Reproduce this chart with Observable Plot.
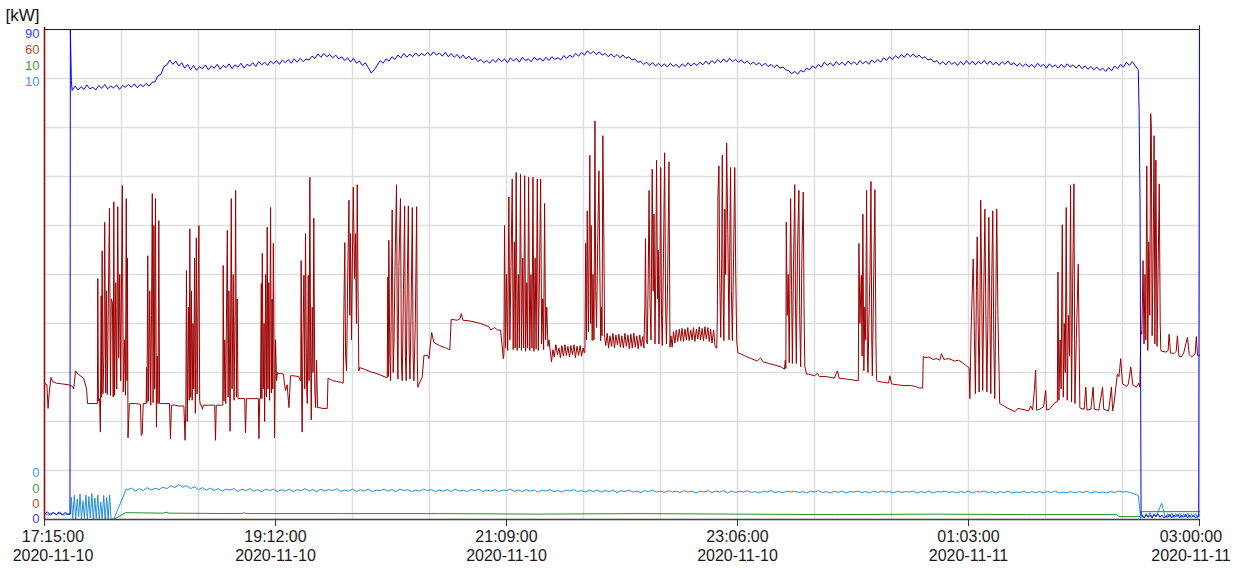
<!DOCTYPE html>
<html><head><meta charset="utf-8">
<script src="https://cdn.jsdelivr.net/npm/d3@7"></script>
<script src="https://cdn.jsdelivr.net/npm/@observablehq/plot@0.6"></script>
<style>body{margin:0;background:#fff;} #chart svg{display:block;}</style>
</head><body><div id="chart"></div>
<script>
// ---- axis / scale definitions ----
const unitLabel = "[kW]";
const seriesNames = ["P total", "P load", "P aux", "P ctrl"];
const seriesMax = [90, 60, 10, 10];          // per-series full-scale values
const topLabels = ["90", "60", "10", "10"];
const bottomLabels = ["0", "0", "0", "0"];
const seriesColors = ["#0000ff", "#9b0000", "#2a8f2a", "#2590d4"];
const labelColors = ["#3c3cff", "#b8502e", "#3d9a3d", "#3a9ad8"];
const tickMinutes = [0, 117, 234, 351, 468, 585];
const timeLabels = ["17:15:00", "19:12:00", "21:09:00", "23:06:00", "01:03:00", "03:00:00"];
const dateLabels = ["2020-11-10", "2020-11-10", "2020-11-10", "2020-11-10", "2020-11-11", "2020-11-11"];

// ---- series: [minutes after 17:15, kW] ----
const blueLead = [[0,1.0],[1.5,1.4],[3,0.8],[4.5,1.3],[6,0.9],[7.5,1.4],[9,0.8],[10.5,1.3],[12,0.9],[12.9,1.0],[13.1,90.0],[13.6,80.6]];
const blueStart = 14, blueStep = 1.5;
const blueMain = [
78.8,79.6,78.9,79.5,79.0,79.8,79.1,79.4,78.9,79.7,79.2,79.9,79.1,79.6,79.3,79.8,79.0,79.7,79.4,79.9,
79.4,80.0,79.3,79.9,79.5,80.1,79.6,80.3,80.4,81.5,81.8,83.2,83.5,84.4,83.6,84.2,83.3,83.9,82.9,83.6,
82.6,83.4,82.5,83.2,82.8,83.5,82.6,83.3,82.9,83.6,82.7,83.4,83.0,83.7,82.8,83.5,83.1,83.8,82.9,83.6,
83.3,83.9,83.2,84.1,83.5,84.0,83.4,84.2,83.7,84.3,83.6,84.4,83.9,84.5,83.8,84.6,84.0,84.7,84.1,84.6,
84.4,85.1,84.7,85.5,84.9,85.6,85.0,85.4,84.8,85.3,84.6,85.0,84.3,84.8,84.0,84.7,83.8,84.2,83.4,83.9,
83.0,82.0,82.6,83.4,84.3,83.8,84.6,84.2,85.0,84.5,85.3,84.8,85.6,84.9,85.5,85.0,85.7,85.1,85.6,85.2,
85.8,85.2,85.9,85.3,85.7,85.1,85.8,85.0,85.6,84.9,85.4,84.7,85.3,84.6,85.1,84.4,84.8,84.1,84.5,83.9,
84.3,83.8,84.5,84.0,84.7,84.1,84.6,83.9,84.8,84.2,84.7,84.0,84.9,84.3,84.6,84.1,84.9,84.4,84.7,84.2,
84.9,84.3,85.0,84.5,84.8,84.4,85.2,84.7,85.3,84.9,85.6,85.1,85.8,85.3,86.1,85.5,86.0,85.4,85.9,85.3,
85.6,85.0,85.5,84.9,85.4,84.8,85.3,84.7,85.0,84.4,84.6,84.0,84.1,83.6,84.0,83.4,83.9,83.3,83.8,83.2,
83.7,83.1,83.8,83.2,83.6,83.0,83.7,83.2,83.9,83.3,83.8,83.4,84.0,83.5,84.2,83.6,84.3,83.8,84.5,83.9,
84.6,84.0,84.7,84.1,84.5,84.0,84.4,83.8,84.2,83.6,84.0,83.5,83.9,83.3,83.8,83.2,83.6,83.0,83.5,82.9,
83.1,82.6,82.4,81.9,82.3,81.8,82.5,82.2,82.9,82.6,83.3,82.9,83.6,83.1,84.0,83.4,83.9,83.3,84.1,83.5,
84.0,83.4,84.2,83.6,84.1,83.5,84.3,83.7,84.2,83.6,84.4,83.9,84.5,84.0,84.8,84.3,85.0,84.5,85.2,84.7,
85.4,84.9,85.6,85.0,85.5,84.9,85.3,84.7,85.0,84.4,84.6,84.0,84.3,83.6,84.1,83.5,84.2,83.6,84.0,83.4,
84.1,83.5,84.3,83.6,84.2,83.5,84.1,83.7,84.3,83.6,84.2,83.5,84.0,83.4,84.1,83.6,84.2,83.5,83.9,83.3,
83.8,83.2,83.7,83.1,83.6,83.0,83.8,83.2,83.6,82.9,83.7,83.1,83.5,82.9,83.6,83.0,83.7,83.1,83.5,82.9,
83.5,82.8,83.3,82.7,83.2,82.6,83.1,82.5,82.9,82.3,83.0,82.4,83.3,82.8,83.6,83.1,84.0,83.4,84.1,83.3,
82.6];
const blueTail = [[554.4,75.0],[554.9,58.0],[555.4,0.9],[556,0.7],[557,0.3],[558,0.9],[559,0.4],[560,0.8],[561,0.3],[562,0.9],[563,0.5],[564,1.0],[565,0.4],[566,0.8],[567,0.3],[568,0.7],[569,0.4],[570,0.9],[571,0.3],[572,0.8],[573,0.5],[574,0.9],[575,0.3],[576,0.8],[577,0.4],[578,0.9],[579,0.3],[580,0.8],[581,0.4],[582,0.7],[583,0.3],[584,0.6],[584.6,0.5],[585,90.7]];

const redPts = [
[0,16.7],[1.2,16.5],[1.8,13.6],[2.4,15.5],[3.3,17.4],[4.1,16.9],[6,16.7],[9,16.6],[12,16.5],[14.2,16.3],[14.8,16.0],[15.7,18.2],[17,17.8],[19.8,17.3],[21.3,16.0],[21.8,14.2],[24,14.2],[26.5,14.2],
[26.8,14.2],[27.0,29.5],[27.3,14.5],[27.9,14.8],[28.3,10.7],[28.7,27.4],[28.9,15.0],[29.2,32.9],[29.6,15.4],[30.1,20],[30.5,36.4],[31.0,15.5],[31.4,28],[31.8,15.3],[32.3,26],[32.9,38.1],[33.4,15.2],[33.8,27],[34.4,26.6],[34.8,15.0],[35.1,38.9],[35.5,15.2],[36.1,29],[36.6,16],[37.1,38.3],[37.6,19.8],[38.1,30],[38.6,17],[39.4,40.9],[39.9,15.6],[40.5,22],[41.0,15.2],[41.4,39.3],[41.8,17],[42.0,32.0],[42.3,10.0],[43.0,14.2],
[43.6,14.2],[46,14.2],[48.6,14.1],[49.0,10.3],[49.5,10.5],[50.0,14.2],[51.2,14.2],
[51.5,14.2],[51.7,18.6],[51.9,14.3],[52.3,32.3],[52.7,14.5],[53.3,28],[53.8,14.0],[54.2,25],[54.6,39.9],[55.0,14.3],[55.4,36],[55.8,16],[56.2,39.3],[56.7,11.3],[57.1,20],[57.5,14.2],[57.9,36.6],[58.3,14.2],[59,14.2],
[59.8,14.2],[62,14.2],[63.3,14.2],[63.8,9.9],[64.3,14.0],[66,14.0],[68,13.9],[70.6,13.9],[71.2,9.7],[71.6,14.0],
[71.9,30.5],[72.3,12],[72.9,26],[73.3,14.6],[73.6,35.6],[74.0,15],[74.4,28],[74.8,14.6],[75.2,24],[75.6,16],[76.0,32],[76.4,13],[76.9,34.5],[77.3,15.4],[77.8,27],[78.2,36],[78.6,14.6],[79.0,14.0],
[79.5,14.0],[80,13.5],[80.5,14.0],[83,14.0],[86.2,14.0],[86.6,9.7],[87.0,14.0],[89.8,14.0],
[90.3,14.0],[90.5,31.1],[90.9,14.5],[91.3,22],[91.8,14.2],[92.2,26],[92.6,35.4],[93.0,15],[93.4,28],[94.0,10.8],[94.6,39.3],[95.0,16],[95.6,30],[96.0,14.6],[96.5,25],[96.8,40.3],[97.2,15],[97.6,27],[98.0,14.8],
[98.3,14.8],[101.4,14.8],[101.8,10.6],[102.3,14.8],[105,14.8],[108.3,14.8],[108.6,9.9],[109.0,14.8],
[109.4,14.8],[109.8,28.9],[110.1,14.8],[110.3,32.6],[110.8,16],[111.2,24],[111.5,12],[112.0,30],[112.4,15],[112.8,35.8],[113.2,16],[113.6,29],[114.0,14.6],[114.5,38.2],[114.9,15.5],[115.3,27],[115.6,16],[115.9,33.8],[116.3,20],[116.5,10.0],[117.0,22],[117.5,17.0],[118,18.0],
[118.5,17.9],[119.6,17.9],[121,17.8],[121.6,16.5],[122.1,15.8],[122.9,16.5],[123.8,13.7],[124.2,15.5],[124.6,17.6],[126,17.6],[128.8,17.5],[129.5,17.0],
[129.8,17.0],[130.0,31.7],[130.3,14],[130.5,10.7],[130.9,22],[131.4,29.9],[131.8,16],[132.2,35.0],[132.7,17],[133.1,14.2],[133.6,29.9],[134.0,17],[134.4,41.9],[134.8,20],[135.1,12.2],[135.6,26],[136.0,18],[136.4,36.9],[136.9,16],[137.3,13.7],[137.8,19.5],[138.3,13.7],
[139,13.7],[141,13.6],[143.2,13.6],[143.6,17.3],[146,17.0],[148,16.9],[150,16.8],[151,16.7],
[151.3,16.7],[151.6,25],[152.1,33.9],[152.5,20],[153.0,18.2],[153.6,30],[154.2,39.1],[154.6,25],[155.0,35],[155.5,22],[156.0,33],[156.4,40.7],[157.0,29.5],[157.5,35],[158.0,24],[158.4,41.0],[158.8,28],[159.2,18.2],
[159.6,18.6],[162,18.4],[165,18.1],[168,17.9],[171,17.6],[173,17.4],
[173.6,17.4],[173.9,29.7],[174.1,17.5],[174.4,34.2],[174.9,20],[175.3,17.0],[175.7,28],[176.1,37.9],[176.6,18],[177.0,21.5],[177.6,32],[178.3,41.0],[178.7,22],[179.0,17.2],[179.5,31],[180.3,39.3],[180.8,19],[181.2,17.0],[181.8,28],[182.4,38.4],[182.8,20],[183.2,17.0],[183.8,30],[184.3,38.4],[184.7,21],[185.1,17.2],[185.7,26],[186.3,38.2],[186.7,20],[187.1,17.0],[187.8,24],[188.5,38.3],[188.8,20],[189.1,16.2],
[189.5,16.5],[191.3,17.4],[192.2,20.1],[194.0,20.1],[194.7,19.7],[196.1,22.9],[197.2,21.7],[200,21.3],[203.2,21.0],[205.3,20.8],[206.0,24.5],[209.1,24.4],[210.5,24.6],[211.1,25.2],[211.9,24.4],[215.8,24.3],[220.9,24.0],[225.1,23.6],[226,23.2],[228,23.5],[229.5,23.2],[231.0,23.2],[232.4,19.7],
[232.7,20.2],[233.0,36.0],[233.5,21],[234.0,30],[234.6,20.7],[235.2,39.5],[235.7,22],[236.3,31],[236.9,41.7],[237.4,20.8],[238.0,34],[238.4,21],[238.9,42.5],[239.4,20.7],[240.0,30],[240.5,21],[241.1,42.3],[241.6,20.7],[242.2,32],[242.7,21],[243.2,42.1],[243.7,20.6],[244.3,29],[244.7,21],[245.2,41.9],[245.8,20.7],[246.4,30],[246.9,21],[247.4,41.9],[247.9,20.6],[248.5,32],[249.0,20.9],[249.6,41.7],[250.1,20.7],[250.7,30],[251.3,41.7],[251.8,21.5],[252.4,27],[252.8,20.8],[253.3,38.7],[253.8,22],[254.4,26],[255.0,21.2],[255.5,22.0],
[256,21.0],[256.8,19.3],[257.5,20.8],[258.2,19.9],[259,21.4],[259.8,20.2],[260.6,21.0],[261.3,19.8],[262.0,21.3],[262.8,20.0],[263.6,21.4],[264.3,20.1],[265.1,21.2],[265.9,19.9],[266.6,21.3],[267.4,20.2],[268.2,21.4],[268.9,19.8],[269.7,21.2],[270.5,20.1],[271.3,21.3],[272.0,20.0],[272.8,21.0],[273.4,20.4],
[273.7,20.5],[274.1,33.8],[274.5,22],[274.9,37.8],[275.5,23],[276.2,44.6],[276.6,24],[276.9,36],[277.4,21.9],[277.8,30],[278.3,22],[278.8,48.8],[279.2,28],[279.6,23.5],[280.2,34],[280.8,42.7],[281.3,30],[281.7,21.9],[282.0,26],[282.4,22.5],[282.8,47.0],[283.3,34.6],[283.7,22.3],
[284.3,21.3],[285.0,22.8],[285.7,21.0],[286.4,22.5],[287.2,21.2],[287.9,22.8],[288.7,21.0],[289.4,22.6],[290.2,21.4],[290.9,22.7],[291.7,21.1],[292.4,22.5],[293.2,21.0],[294.0,22.8],[294.7,21.2],[295.5,22.6],[296.2,20.9],[297.0,22.7],[297.7,21.0],[298.5,22.8],[299.2,21.1],[300.0,22.5],[300.7,20.9],[301.5,22.6],[302.2,21.2],[303.0,22.4],
[303.6,21.0],[304.1,26.4],[304.4,34.4],[304.8,22],[305.3,21.5],[305.8,30],[306.2,40.3],[306.7,26.4],[307.2,22],[307.8,42.9],[308.3,28],[308.7,37.4],[309.2,21.5],[309.6,30],[310.0,44.0],[310.5,27],[310.9,33],[311.2,21.5],[311.7,30],[312.1,43.1],[312.5,25],[312.9,21.3],[313.5,32],[314.1,44.9],[314.6,26],[315.0,21.5],[315.6,29],[316.3,43.8],[316.8,21.1],
[317.3,22.5],[317.9,21.1],[318.6,23.0],[319.3,21.6],[320.0,23.2],[320.7,21.8],[321.5,23.3],[322.2,21.9],[322.9,23.4],[323.6,21.8],[324.4,23.3],[325.1,22.0],[325.8,23.5],[326.5,21.9],[327.3,23.2],[328.0,22.0],[328.7,23.5],[329.4,21.8],[330.2,23.3],[330.9,22.1],[331.6,23.6],[332.3,22.0],[333.1,23.4],[333.8,21.9],[334.5,23.6],[335.2,22.1],[336.0,23.5],[336.7,21.8],[337.4,23.3],[338.1,21.6],[338.9,23.2],[339.6,21.3],[340.2,21.0],
[340.5,21.0],[340.8,25.2],[341.1,39.7],[341.6,43.3],[342.0,30],[342.5,22.3],[343.0,32],[343.3,44.6],[343.8,26],[344.1,21.9],[344.6,38],[345.0,30],[345.5,46.1],[346.1,35],[346.7,22.0],[347.1,34],[347.5,43.1],[347.9,28],[348.4,21.9],[349.0,32],[349.6,43.1],[350.1,30],[350.6,21.9],[351.2,20.4],
[352.5,20.3],[355,20.0],[358,19.7],[361,19.4],[362.7,19.8],[364,19.3],[367,19.1],[370,18.9],[373,18.7],[374.8,18.4],[375.2,19.5],
[375.5,18.5],[375.7,36.4],[376.2,25],[376.7,30],[377.2,19.2],[377.9,39.3],[378.4,28],[378.8,19.1],[379.3,30],[380.0,41.0],[380.4,26],[380.8,19.1],[381.4,33],[382.1,40.3],[382.5,25],[383.0,18.7],[383.6,32],[384.3,40.1],[384.7,26],[385.1,18.7],[386.0,17.8],
[387,17.8],[390,17.6],[391.5,17.9],[392.5,17.5],[396,17.5],[400,17.3],[401.6,18.2],[402.5,17.3],[406,17.2],[409,17.1],[411.5,17.0],
[412.2,17.0],[412.5,33.8],[413.0,24],[413.7,29.9],[414.1,20],[414.5,37.4],[415.0,18.2],[415.5,26],[415.9,22],[416.4,40.3],[416.8,20],[417.1,18.0],[417.7,26],[418.1,30],[418.6,41.4],[419.0,22],[419.3,17.6],[420.0,30],[420.6,40.4],[421.1,22],[421.4,17.1],
[422,16.9],[425,16.8],[427.5,16.7],[428.2,17.6],[429,16.6],[432,16.5],[435,16.4],[438.7,16.4],[441,16.3],[443,16.1],[444.8,16.1],
[445.1,20.0],[446,19.8],[448,19.9],[450,19.6],[452,19.7],[453.5,19.5],[454.3,20.3],[455.5,19.6],[458,19.7],[461,19.4],[463,19.5],[465,19.2],[466.5,18.9],[467.6,18.7],
[468.3,18.6],[468.7,14.8],[469.3,23.1],[470.4,31.9],[471.0,22],[471.5,15.4],[472.0,28],[472.4,34.6],[472.9,24],[473.4,15.6],[473.8,26],[474.2,39.1],[474.7,28],[475.2,15.8],[475.7,27],[476.3,38.0],[476.8,25],[477.3,15.6],[477.8,24],[478.3,37.0],[478.8,26],[479.3,15.4],[479.8,30],[480.3,37.8],[480.8,22],[481.3,14.8],[481.8,26],[482.3,38.0],[482.9,25],[483.8,14.2],
[484.5,14.1],[486,13.9],[488,13.6],[490,13.4],[491.5,13.2],[493,13.6],[495,13.5],[497,13.4],[498.5,13.3],[499.5,13.9],[500.5,13.4],[501.4,16],[502.0,18.3],[502.5,13.4],[504,13.5],[506,13.8],[507.1,15.8],[507.6,13.4],[509,13.5],[511.3,14.2],[512.5,14.4],
[513.0,14.4],[513.3,30.3],[513.8,14.6],[514.4,22],[514.9,16],[515.5,36.1],[516.0,15.0],[516.5,24],[517.0,18],[517.5,38.2],[518.0,14.6],[518.6,25],[519.2,20],[519.7,40.9],[520.2,14.4],[520.8,30],[521.4,41.1],[521.9,14.2],[522.6,22],[523.6,31.3],[524.4,13.7],
[525,13.6],[526.6,13.5],[527.4,16.2],[528.0,13.4],[530,13.5],[531.1,16.2],[531.7,13.5],[534,13.4],[535.9,16.2],[536.5,13.5],[539,13.3],[540.4,16.2],[541.0,13.3],[541.7,14.2],[543.4,17.8],[544.2,17.5],[545.1,19.7],[546.0,16.6],[548,16.3],[549,16.6],[550.2,18.7],[551.2,16.5],[553,16.2],[554.3,16.7],[554.8,16.2],[555.3,23.1],
[555.8,22.7],[556.4,31.7],[556.9,21.5],[557.4,30],[557.8,22],[558.3,43.3],[558.8,20.7],[559.3,34],[559.8,25],[560.3,49.7],[560.6,48.0],[561.0,22.5],[561.5,32],[562.0,47.0],[562.4,21.5],[562.9,44.0],[563.5,21.2],[564.0,30],[564.6,41.1],[565.1,24],[565.4,20.7],
[566,20.6],[568,20.5],[569.1,20.7],[569.6,22.7],[570.3,20.4],[572,20.3],[573.2,20.6],[573.8,22.5],[574.6,20.0],[575.8,19.9],[577,20.4],[578.9,22.3],[579.8,20.2],[581,19.9],[582.8,20.3],[583.4,22.4],[584.0,20.1],[585,20.1]];

const greenPts = [[0,0],[35,0],[41,0.14],[60,0.13],[62,0.15],[63,0.13],[100,0.12],[101,0.14],[102,0.12],[150,0.12],[200,0.12],[250,0.11],[300,0.12],[350,0.11],[400,0.10],[450,0.11],[500,0.10],[543,0.10],[544,0.06],[555,0.06],[555.5,0.16],[585,0.16]];

const lightLead = [[0,0.12],[2,0.09],[4,0.14],[6,0.10],[8,0.13],[10,0.09],[12,0.12],[13.2,0.10],[13.6,0.45],[14.3,0.02],[15.1,0.50],[15.8,0.00],[16.6,0.42],[17.3,0.05],[18.0,0.52],[18.7,0.00],[19.5,0.38],[20.2,0.02],[21.0,0.50],[21.7,0.00],[22.5,0.47],[23.2,0.03],[24.0,0.53],[24.7,0.00],[25.5,0.44],[26.2,0.02],[27.0,0.50],[27.7,0.00],[28.5,0.36],[29.2,0.02],[30.0,0.49],[30.7,0.00],[31.5,0.45],[32.2,0.00],[33.0,0.50],[33.7,0.00],[34.6,0.02],[35.0,0.00],[41.5,0.63]];
const lightStart = 42, lightStep = 2;
const lightMain = [
0.60,0.64,0.58,0.63,0.59,0.65,0.60,0.64,0.61,0.66,0.63,0.69,0.65,0.71,0.66,0.69,0.63,0.67,0.61,0.65,
0.60,0.64,0.59,0.63,0.58,0.62,0.60,0.63,0.57,0.62,0.59,0.63,0.58,0.61,0.57,0.62,0.59,0.62,0.57,0.61,
0.58,0.62,0.57,0.61,0.59,0.63,0.58,0.61,0.57,0.62,0.58,0.61,0.59,0.63,0.57,0.60,0.58,0.62,0.57,0.61,
0.58,0.62,0.57,0.60,0.59,0.62,0.58,0.61,0.57,0.62,0.59,0.61,0.57,0.60,0.58,0.62,0.59,0.61,0.57,0.60,
0.58,0.61,0.57,0.62,0.58,0.60,0.57,0.61,0.59,0.62,0.57,0.60,0.58,0.61,0.57,0.60,0.59,0.62,0.57,0.60,
0.57,0.61,0.58,0.60,0.56,0.60,0.58,0.61,0.57,0.59,0.56,0.60,0.58,0.61,0.57,0.59,0.56,0.60,0.57,0.60,
0.56,0.59,0.57,0.60,0.55,0.59,0.57,0.60,0.56,0.58,0.55,0.59,0.57,0.60,0.56,0.58,0.55,0.59,0.56,0.58,
0.55,0.59,0.56,0.58,0.54,0.58,0.56,0.59,0.55,0.58,0.56,0.59,0.54,0.58,0.55,0.58,0.56,0.59,0.55,0.57,
0.54,0.58,0.56,0.59,0.55,0.57,0.54,0.58,0.56,0.58,0.55,0.57,0.54,0.58,0.56,0.59,0.55,0.57,0.54,0.58,
0.55,0.58,0.54,0.57,0.56,0.58,0.55,0.57,0.54,0.58,0.55,0.58,0.56,0.57,0.54,0.58,0.55,0.57,0.56,0.58,
0.54,0.57,0.55,0.58,0.54,0.57,0.56,0.58,0.55,0.57,0.54,0.57,0.55,0.58,0.54,0.57,0.56,0.58,0.55,0.57,
0.54,0.57,0.55,0.58,0.54,0.56,0.55,0.58,0.54,0.57,0.55,0.57,0.54,0.57,0.55,0.58,0.54,0.56,0.55,0.57,
0.54,0.57,0.55,0.58,0.54,0.57,0.55,0.56,0.54,0.57,0.55,0.58,0.56,0.57,0.55,0.52,0.49];
const lightTail = [[555.2,0.02],[556,0.10],[557,0.03],[558,0.12],[559,0.05],[560,0.14],[561,0.04],[562,0.12],[563,0.06],[564,0.15],[565,0.25],[565.8,0.33],[566.5,0.22],[567.3,0.10],[568,0.04],[569,0.12],[570,0.05],[571,0.13],[572,0.04],[573,0.12],[574,0.06],[575,0.13],[576,0.04],[577,0.12],[578,0.05],[579,0.13],[580,0.04],[581,0.12],[582,0.05],[583,0.12],[584,0.04],[585,0.10]];

// ---- build ----
const t0 = Date.UTC(2020, 10, 10, 17, 15);
const toDate = m => new Date(t0 + m * 60000);
const fromPairs = (arr, max) => arr.map(([m, v]) => ({t: toDate(m), f: v / max}));
const fromSteps = (start, step, vals, max) => vals.map((v, i) => ({t: toDate(start + i * step), f: v / max}));

const blueData = [...fromPairs(blueLead, seriesMax[0]), ...fromSteps(blueStart, blueStep, blueMain, seriesMax[0]), ...fromPairs(blueTail, seriesMax[0])];
const redData = fromPairs(redPts, seriesMax[1]);
const greenData = fromPairs(greenPts, seriesMax[2]);
const lightData = [...fromPairs(lightLead, seriesMax[3]), ...fromSteps(lightStart, lightStep, lightMain, seriesMax[3]), ...fromPairs(lightTail, seriesMax[3])];

const gridTimes = d3.range(0, 586, 39).map(toDate);
const gridFracs = d3.range(0, 11).map(i => i / 10);
const tickRows = tickMinutes.map((m, i) => ({t: toDate(m), time: timeLabels[i], date: dateLabels[i], i}));
const last = tickRows.length - 1;

function labelMarks(rows, dx) {
  return [
    Plot.text(rows, {x: "t", text: "time", frameAnchor: "bottom", dy: 22, dx, lineAnchor: "bottom", fontSize: 16, fill: "#1a1a1a"}),
    Plot.text(rows, {x: "t", text: "date", frameAnchor: "bottom", dy: 41, dx, lineAnchor: "bottom", fontSize: 16, fill: "#1a1a1a"})
  ];
}

const topOffsets = [4, 20, 36, 52];
const bottomOffsets = [-47, -31, -15.5, -1];
const bottomOrder = [3, 2, 1, 0];

const chart = Plot.plot({
  width: 1240, height: 568,
  marginLeft: 44, marginRight: 41, marginTop: 29, marginBottom: 49,
  style: {fontFamily: "'Liberation Sans', Arial, sans-serif", background: "#ffffff", overflow: "visible"},
  x: {type: "utc", domain: [toDate(0), toDate(585)], label: null},
  y: {domain: [0, 1], axis: null},
  marks: [
    Plot.ruleX(gridTimes, {stroke: "#dedede", strokeWidth: 1.5}),
    Plot.ruleY(gridFracs, {stroke: "#dedede", strokeWidth: 1.5}),
    Plot.line(greenData, {x: "t", y: "f", stroke: seriesColors[2], strokeWidth: 1}),
    Plot.line(lightData, {x: "t", y: "f", stroke: seriesColors[3], strokeWidth: 1}),
    Plot.line(redData, {x: "t", y: "f", stroke: seriesColors[1], strokeWidth: 1}),
    Plot.line(blueData, {x: "t", y: "f", stroke: seriesColors[0], strokeWidth: 1}),
    Plot.ruleY([1], {stroke: "#222", strokeWidth: 1.2}),
    Plot.ruleY([0], {stroke: "#444", strokeWidth: 1.5}),
    Plot.ruleX([toDate(0)], {stroke: "#a00000", strokeWidth: 1.5, insetTop: -2}),
    Plot.axisX({ticks: tickRows.map(d => d.t), tickSize: 7, tickFormat: () => "", stroke: "#333", label: null}),
    ...labelMarks(tickRows.filter(d => d.i === 0), 8.5),
    ...labelMarks(tickRows.filter(d => d.i > 0 && d.i < last), 0),
    ...labelMarks(tickRows.filter(d => d.i === last), -8.5),
    ...topLabels.map((s, i) => Plot.text([s], {text: d => d, frameAnchor: "top-left", dx: -5, dy: topOffsets[i], textAnchor: "end", lineAnchor: "middle", fontSize: 13, fill: labelColors[i]})),
    ...bottomOrder.map((k, j) => Plot.text([bottomLabels[k]], {text: d => d, frameAnchor: "bottom-left", dx: -5, dy: bottomOffsets[j], textAnchor: "end", lineAnchor: "middle", fontSize: 13, fill: labelColors[k]})),
    Plot.text([unitLabel], {text: d => d, frameAnchor: "top-left", dx: -39, dy: -9, textAnchor: "start", lineAnchor: "bottom", fontSize: 17, fill: "#111"})
  ]
});
document.getElementById("chart").appendChild(chart);
</script>
</body></html>
